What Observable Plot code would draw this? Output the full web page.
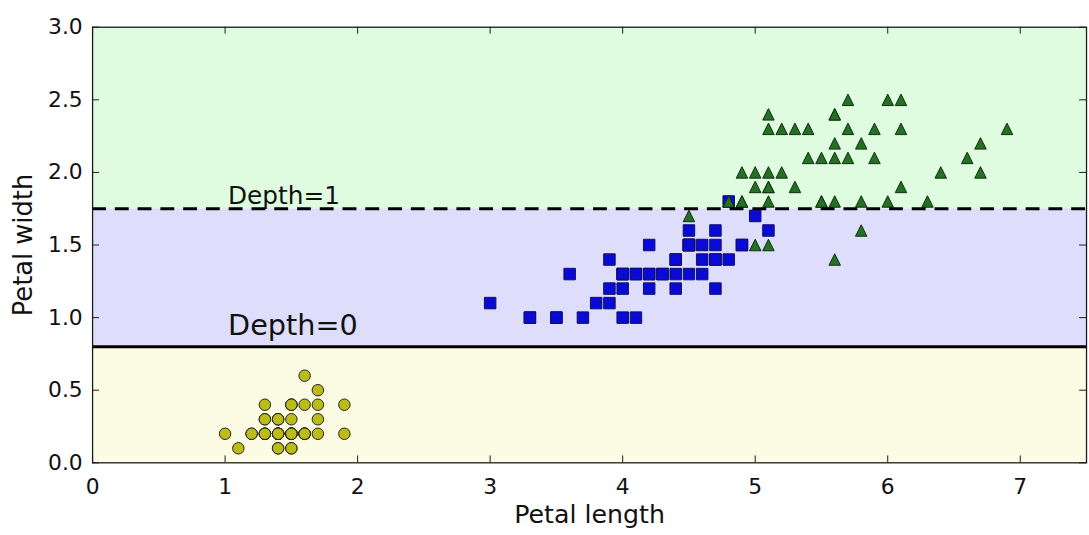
<!DOCTYPE html>
<html>
<head>
<meta charset="utf-8">
<script src="https://cdn.jsdelivr.net/npm/d3@7"></script>
<script src="https://cdn.jsdelivr.net/npm/@observablehq/plot@0.6"></script>
<style>
html, body { margin: 0; padding: 0; background: #fff; overflow: hidden; width: 1089px; height: 535px; }
#chart svg { display: block; }
</style>
</head>
<body>
<div id="chart"></div>
<script>
const setosaLength = [1.4,1.4,1.3,1.5,1.4,1.7,1.4,1.5,1.4,1.5,1.5,1.6,1.4,1.1,1.2,1.5,1.3,1.4,1.7,1.5,1.7,1.5,1.0,1.7,1.9,1.6,1.6,1.5,1.4,1.6,1.6,1.5,1.5,1.4,1.5,1.2,1.3,1.4,1.3,1.5,1.3,1.3,1.3,1.6,1.9,1.4,1.6,1.4,1.5,1.4];
const setosaWidth  = [0.2,0.2,0.2,0.2,0.2,0.4,0.3,0.2,0.2,0.1,0.2,0.2,0.1,0.1,0.2,0.4,0.4,0.3,0.3,0.3,0.2,0.4,0.2,0.5,0.2,0.2,0.4,0.2,0.2,0.2,0.2,0.4,0.1,0.2,0.2,0.2,0.2,0.1,0.2,0.2,0.3,0.3,0.2,0.6,0.4,0.3,0.2,0.2,0.2,0.2];
const versicolorLength = [4.7,4.5,4.9,4.0,4.6,4.5,4.7,3.3,4.6,3.9,3.5,4.2,4.0,4.7,3.6,4.4,4.5,4.1,4.5,3.9,4.8,4.0,4.9,4.7,4.3,4.4,4.8,5.0,4.5,3.5,3.8,3.7,3.9,5.1,4.5,4.5,4.7,4.4,4.1,4.0,4.4,4.6,4.0,3.3,4.2,4.2,4.2,4.3,3.0,4.1];
const versicolorWidth  = [1.4,1.5,1.5,1.3,1.5,1.3,1.6,1.0,1.3,1.4,1.0,1.5,1.0,1.4,1.3,1.4,1.5,1.0,1.5,1.1,1.8,1.3,1.5,1.2,1.3,1.4,1.4,1.7,1.5,1.0,1.1,1.0,1.2,1.6,1.5,1.6,1.5,1.3,1.3,1.3,1.2,1.4,1.2,1.0,1.3,1.2,1.3,1.3,1.1,1.3];
const virginicaLength = [6.0,5.1,5.9,5.6,5.8,6.6,4.5,6.3,5.8,6.1,5.1,5.3,5.5,5.0,5.1,5.3,5.5,6.7,6.9,5.0,5.7,4.9,6.7,4.9,5.7,6.0,4.8,4.9,5.6,5.8,6.1,6.4,5.6,5.1,5.6,6.1,5.6,5.5,4.8,5.4,5.6,5.1,5.1,5.9,5.7,5.2,5.0,5.2,5.4,5.1];
const virginicaWidth  = [2.5,1.9,2.1,1.8,2.2,2.1,1.7,1.8,1.8,2.5,2.0,1.9,2.1,2.0,2.4,2.3,1.8,2.2,2.3,1.5,2.3,2.0,2.0,1.8,2.1,1.8,1.8,1.8,2.1,1.6,1.9,2.0,2.2,1.5,1.4,2.3,2.4,1.8,1.8,2.1,2.4,2.3,1.9,2.3,2.5,2.3,1.9,2.0,2.3,1.8];

// Decision regions (tree splits on petal width)
const bandLower  = [0.0, 0.8, 1.75];
const bandUpper  = [0.8, 1.75, 3.0];
const bandColors = ["#fcfce4", "#dedefc", "#e0fce0"];
const depth0Split = 0.8;
const depth1Split = 1.75;
const depthLabels = ["Depth=0", "Depth=1"];
const depthLabelX = [1.0, 1.0];
const depthLabelY = [0.9, 1.8];

// Axes
const xDomain = [0, 7.5];
const yDomain = [0, 3.0];
const xTicks = [0, 1, 2, 3, 4, 5, 6, 7];
const yTicks = [0.0, 0.5, 1.0, 1.5, 2.0, 2.5, 3.0];
const xLabel = "Petal length";
const yLabel = "Petal width";

// ---- Build tables ----
const toPoints = (xs, ys) => xs.map((x, i) => ({x, y: ys[i]}));
const setosa = toPoints(setosaLength, setosaWidth);
const versicolor = toPoints(versicolorLength, versicolorWidth);
const virginica = toPoints(virginicaLength, virginicaWidth);
const bands = bandLower.map((y1, i) => ({y1, y2: bandUpper[i], color: bandColors[i], x1: xDomain[0], x2: xDomain[1]}));
const depthText = depthLabels.map((t, i) => ({t, x: depthLabelX[i], y: depthLabelY[i], size: i === 0 ? 29 : 25}));

// matplotlib-like marker shapes
const symSquare = {draw(ctx, size) { const h = Math.sqrt(size / Math.PI); ctx.rect(-h, -h, 2 * h, 2 * h); }};
const symTriangle = {draw(ctx, size) { const h = Math.sqrt(size / Math.PI); ctx.moveTo(0, -h); ctx.lineTo(h, h); ctx.lineTo(-h, h); ctx.closePath(); }};

const W = 1100, H = 535, mL = 93, mR = 3, mT = 27, mB = 68;
const innerW = W - mL - mR, innerH = H - mT - mB;
const tickLen = 7;
const spine = "#1a1a1a";

const chart = Plot.plot({
  width: W, height: H,
  marginLeft: mL, marginRight: mR, marginTop: mT, marginBottom: mB,
  style: {fontFamily: "DejaVu Sans", background: "#fff", color: "#111"},
  x: {domain: xDomain, label: null},
  y: {domain: yDomain, label: null},
  color: {type: "identity"},
  marks: [
    Plot.rect(bands, {x1: "x1", x2: "x2", y1: "y1", y2: "y2", fill: "color"}),
    Plot.dot(setosa, {x: "x", y: "y", r: 5.8, symbol: "circle", fill: "#bcbc18", stroke: "#222", strokeWidth: 1}),
    Plot.dot(versicolor, {x: "x", y: "y", r: 5.8, symbol: symSquare, fill: "#0a0ad6", stroke: "#101060", strokeWidth: 1}),
    Plot.dot(virginica, {x: "x", y: "y", r: 5.8, symbol: symTriangle, fill: "#247024", stroke: "#0f2f0f", strokeWidth: 1}),
    Plot.ruleY([depth0Split], {stroke: "#000", strokeWidth: 3}),
    Plot.ruleY([depth1Split], {stroke: "#000", strokeWidth: 3.2, strokeDasharray: "14,9"}),
    Plot.text(depthText, {x: "x", y: "y", text: "t", fontSize: "size", textAnchor: "start", lineAnchor: "bottom", dx: 3, dy: 2.5, fill: "#111"}),
    Plot.frame({stroke: spine, strokeWidth: 1.3}),
    Plot.tickY(yTicks, {y: d => d, insetRight: innerW - tickLen, stroke: spine}),
    Plot.tickY(yTicks, {y: d => d, insetLeft: innerW - tickLen, stroke: spine}),
    Plot.tickX(xTicks, {x: d => d, insetTop: innerH - tickLen, stroke: spine}),
    Plot.tickX(xTicks, {x: d => d, insetBottom: innerH - tickLen, stroke: spine}),
    Plot.axisX({ticks: xTicks, tickSize: 0, tickPadding: 16, fontSize: 22, tickFormat: d => String(d), label: null}),
    Plot.axisY({ticks: yTicks, tickSize: 0, tickPadding: 10, fontSize: 22, tickFormat: d => d.toFixed(1), label: null}),
    Plot.text([xLabel], {frameAnchor: "bottom", text: d => d, dy: 61, dx: 0, fontSize: 25.5, textAnchor: "middle", lineAnchor: "bottom", fill: "#111"}),
    Plot.text([yLabel], {frameAnchor: "left", text: d => d, dx: -61, rotate: -90, fontSize: 26, textAnchor: "middle", lineAnchor: "bottom", fill: "#111"})
  ]
});
document.getElementById("chart").appendChild(chart);
</script>
</body>
</html>
